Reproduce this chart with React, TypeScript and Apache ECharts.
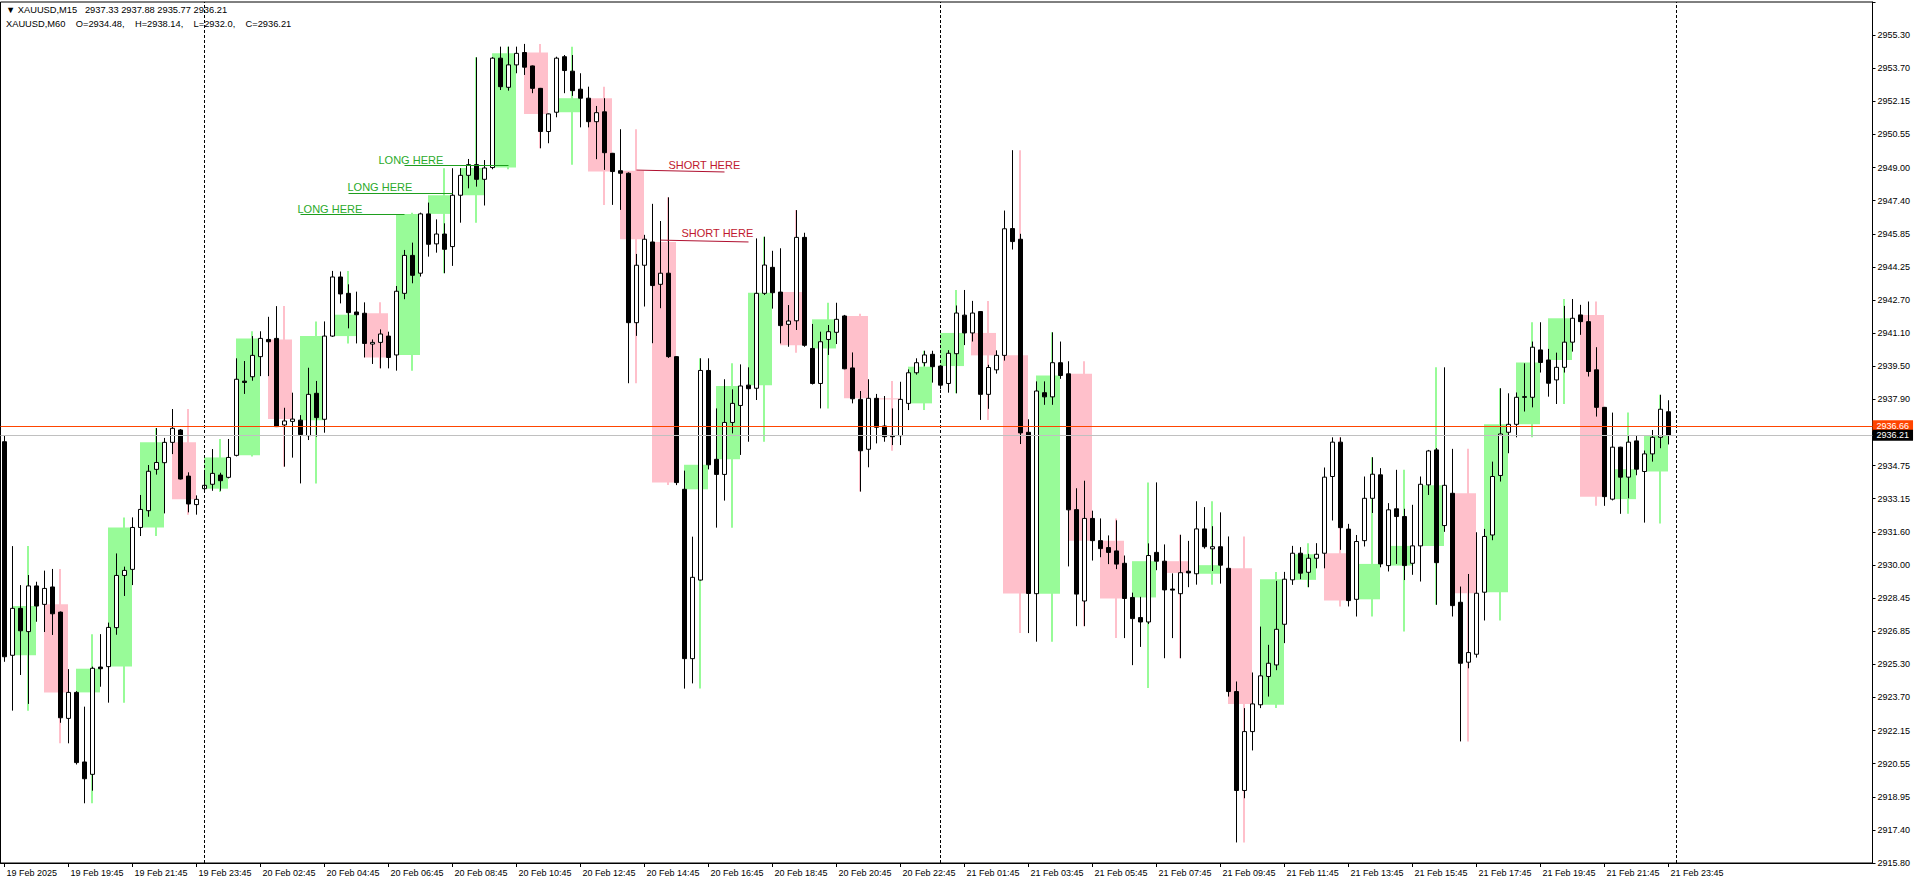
import React, { useEffect, useRef } from 'react';
import * as echarts from 'echarts';

// ---------- M15 candles (bar 0 = 19 Feb 17:45, last = 21 Feb 23:45) ----------
const opens = [2935.90,2925.71,2927.95,2926.84,2929.02,2928.14,2928.97,2927.77,2922.70,2923.94,
2920.62,2920.03,2925.15,2925.17,2927.03,2929.52,2929.81,2931.81,2932.61,2934.58,
2934.90,2935.87,2936.46,2934.26,2932.90,2933.66,2933.87,2934.31,2934.20,2935.25,
2938.79,2939.00,2939.96,2940.78,2940.83,2936.70,2936.87,2936.93,2936.19,2938.21,
2936.97,2940.94,2943.76,2942.98,2942.09,2942.03,2940.56,2940.64,2940.94,2940.04,
2942.98,2944.79,2943.94,2946.77,2945.34,2945.81,2945.21,2947.66,2948.61,2949.12,
2948.42,2948.98,2954.20,2952.81,2953.88,2954.47,2953.83,2952.76,2950.70,2951.62,
2954.27,2953.58,2952.72,2952.29,2951.17,2951.64,2949.66,2948.83,2948.71,2941.58,
2944.32,2945.43,2943.41,2943.94,2939.96,2933.63,2925.55,2929.30,2939.30,2935.06,
2934.34,2936.82,2937.63,2938.60,2938.45,2942.98,2944.22,2943.04,2941.50,2941.67,
2945.65,2940.35,2938.68,2940.78,2941.12,2941.90,2939.42,2937.92,2935.54,2937.97,
2936.65,2936.20,2936.19,2937.73,2939.19,2939.67,2940.07,2939.51,2938.68,2940.10,
2941.94,2941.09,2942.11,2938.16,2939.33,2940.02,2946.07,2945.56,2936.35,2928.65,
2938.24,2938.04,2939.67,2939.14,2932.66,2928.30,2932.24,2931.18,2930.85,2930.69,
2930.10,2928.47,2927.51,2927.30,2930.62,2930.20,2928.87,2928.65,2929.72,2929.60,
2931.74,2930.79,2930.89,2929.86,2923.98,2919.26,2922.07,2923.35,2924.70,2925.25,
2927.19,2929.31,2930.58,2929.67,2930.34,2930.58,2934.24,2935.88,2931.73,2928.38,
2931.18,2933.20,2934.32,2929.99,2932.70,2932.33,2930.10,2930.93,2933.84,2935.51,
2931.90,2933.44,2928.24,2925.38,2925.76,2928.72,2931.45,2934.29,2936.35,2936.73,
2938.05,2938.02,2940.28,2939.80,2938.85,2939.45,2940.65,2941.95,2941.63,2939.33,
2937.54,2933.16,2935.64,2934.21,2935.94,2934.48,2935.32,2936.11,2937.33];

const highs = [2936.20,2930.92,2929.06,2929.54,2929.22,2929.75,2929.83,2927.80,2925.05,2924.00,
2923.26,2925.17,2926.72,2927.27,2930.57,2929.94,2932.29,2933.36,2934.79,2936.55,
2936.08,2937.46,2936.50,2934.44,2933.34,2934.55,2935.55,2934.42,2936.03,2939.88,
2939.75,2940.94,2941.17,2941.86,2942.37,2937.52,2938.24,2937.17,2939.43,2938.80,
2941.64,2944.05,2944.02,2943.41,2943.06,2942.55,2940.78,2941.26,2941.15,2943.33,
2945.05,2945.40,2946.83,2947.31,2946.51,2946.32,2948.95,2948.95,2949.39,2954.24,
2949.34,2954.25,2954.75,2954.75,2954.75,2954.88,2953.85,2952.78,2951.56,2954.27,
2954.35,2954.35,2953.48,2952.84,2951.92,2952.29,2949.68,2950.81,2948.75,2944.86,
2945.77,2947.25,2946.43,2947.56,2939.98,2934.52,2931.37,2939.88,2939.88,2937.49,
2938.88,2938.40,2939.59,2939.45,2945.60,2945.68,2945.01,2945.13,2942.42,2946.95,
2945.87,2941.52,2941.15,2941.47,2942.53,2941.95,2940.16,2938.32,2938.88,2938.18,
2938.08,2937.49,2938.76,2939.35,2939.88,2940.24,2940.24,2939.53,2940.27,2942.40,
2943.14,2942.62,2942.13,2939.57,2940.26,2946.93,2949.81,2945.82,2936.97,2938.78,
2938.78,2941.12,2940.68,2939.74,2933.68,2934.04,2932.61,2932.24,2931.43,2932.15,
2930.47,2928.70,2928.50,2931.05,2933.96,2931.00,2929.62,2931.46,2931.17,2933.06,
2932.78,2931.87,2932.53,2931.38,2924.46,2923.19,2924.89,2927.08,2926.21,2929.26,
2929.69,2930.93,2930.87,2930.55,2931.06,2934.67,2936.11,2936.11,2931.98,2931.45,
2934.24,2935.16,2934.64,2932.97,2934.56,2932.70,2932.89,2934.24,2935.51,2935.60,
2939.45,2935.56,2928.99,2929.59,2931.58,2931.74,2934.95,2938.45,2938.21,2938.25,
2939.64,2940.68,2941.60,2940.33,2940.15,2942.38,2942.71,2942.43,2942.59,2940.41,
2937.56,2937.29,2935.66,2936.18,2936.18,2935.48,2936.46,2938.14,2937.88];

const lows = [2925.40,2923.07,2924.77,2923.39,2927.31,2926.82,2926.68,2922.49,2921.51,2920.50,
2918.65,2919.25,2924.21,2923.45,2926.69,2928.54,2929.06,2931.40,2932.32,2934.33,
2932.48,2935.31,2934.10,2932.53,2932.42,2933.50,2933.56,2933.56,2934.15,2935.20,
2938.18,2938.81,2939.03,2939.03,2936.60,2934.71,2935.14,2933.91,2935.98,2936.14,
2936.33,2940.90,2942.50,2941.31,2940.59,2939.92,2939.61,2939.40,2939.40,2939.29,
2942.70,2943.46,2943.78,2944.73,2944.92,2943.94,2944.29,2946.35,2947.99,2948.07,
2947.17,2948.90,2952.68,2952.65,2953.48,2953.40,2952.53,2949.90,2950.14,2951.38,
2952.53,2952.40,2950.90,2950.90,2949.38,2948.87,2947.20,2946.96,2938.69,2940.95,
2942.35,2940.60,2942.27,2939.90,2933.83,2924.12,2924.37,2929.28,2934.58,2931.80,
2933.09,2936.30,2935.27,2935.90,2937.89,2942.90,2942.25,2940.59,2940.43,2941.23,
2940.43,2938.63,2937.49,2940.04,2940.56,2939.36,2937.73,2933.52,2934.68,2935.82,
2935.90,2935.74,2935.74,2937.41,2939.10,2939.50,2938.72,2938.40,2938.24,2938.21,
2940.51,2940.68,2936.94,2937.47,2939.15,2939.77,2945.07,2935.79,2926.77,2926.36,
2937.66,2937.66,2938.90,2929.95,2927.10,2927.10,2930.23,2930.39,2930.06,2929.82,
2926.53,2925.24,2926.11,2927.20,2929.77,2925.57,2926.53,2925.57,2928.96,2929.08,
2930.80,2929.73,2929.13,2923.74,2916.78,2918.89,2921.17,2923.19,2923.74,2925.00,
2926.29,2929.07,2929.34,2928.96,2929.86,2929.86,2932.14,2930.74,2928.04,2927.56,
2930.90,2932.50,2929.91,2929.71,2930.07,2929.30,2929.55,2929.23,2933.36,2928.12,
2931.60,2927.56,2921.60,2925.09,2925.60,2927.37,2931.20,2934.00,2935.35,2936.11,
2937.34,2937.54,2939.20,2938.05,2937.70,2939.20,2940.20,2941.00,2939.01,2937.10,
2932.84,2933.10,2932.46,2933.20,2934.30,2932.04,2934.95,2935.59,2935.77];

const closes = [2925.64,2927.95,2926.88,2929.02,2928.06,2928.90,2927.69,2922.73,2923.94,2920.59,
2919.82,2925.09,2925.07,2927.04,2929.52,2929.76,2931.81,2932.67,2934.49,2934.91,
2935.87,2936.54,2934.12,2932.93,2933.15,2933.82,2934.39,2934.04,2935.15,2938.88,
2938.73,2940.02,2940.83,2940.67,2936.62,2936.89,2936.98,2936.24,2938.16,2937.05,
2940.94,2943.76,2942.95,2942.06,2941.96,2940.59,2940.64,2941.04,2939.92,2943.08,
2944.79,2943.84,2946.77,2945.32,2945.81,2945.08,2947.66,2948.61,2949.12,2948.42,
2948.96,2954.20,2952.84,2953.88,2954.43,2953.77,2952.76,2950.70,2951.54,2954.20,
2953.61,2952.65,2952.29,2951.17,2951.60,2949.69,2948.79,2948.71,2941.58,2944.32,
2945.56,2943.35,2943.94,2939.96,2933.95,2925.55,2929.43,2939.30,2934.80,2934.34,
2936.82,2937.73,2938.56,2938.43,2942.98,2944.33,2943.01,2941.44,2941.66,2945.65,
2940.50,2938.68,2940.67,2941.15,2941.74,2939.38,2937.95,2935.47,2937.97,2936.59,
2936.14,2936.14,2937.92,2939.19,2939.67,2940.04,2939.48,2938.60,2940.12,2942.04,
2941.09,2942.04,2938.16,2939.44,2940.02,2946.06,2945.45,2936.32,2928.66,2938.32,
2938.04,2939.67,2939.06,2932.65,2928.63,2932.24,2931.18,2930.80,2930.62,2930.06,
2928.42,2927.46,2927.30,2930.47,2930.20,2928.83,2928.82,2929.65,2929.64,2931.74,
2930.89,2930.89,2930.01,2923.98,2919.26,2922.07,2923.39,2924.73,2925.33,2926.95,
2929.34,2930.58,2929.63,2930.34,2930.53,2934.21,2935.88,2931.80,2928.32,2931.14,
2933.20,2934.35,2930.07,2932.65,2932.33,2929.99,2930.93,2933.87,2935.46,2930.13,
2933.82,2928.08,2925.33,2925.84,2928.67,2931.38,2934.24,2936.27,2936.73,2938.02,
2938.02,2940.41,2939.68,2938.69,2939.45,2940.65,2941.79,2941.63,2939.25,2937.54,
2933.28,2935.64,2934.21,2935.88,2934.59,2935.32,2936.11,2937.45,2936.21];

// ---------- M60 candles (19 Feb 18:00 ... 21 Feb 23:00) ----------
const h1Open = [2925.71,2928.14,2923.94,2925.17,2931.81,2935.87,
2933.66,2935.25,2940.78,2936.93,2940.94,2942.03,2940.04,2946.77,2947.66,2948.98,2954.47,2951.62,
2952.29,2948.83,2945.43,2933.63,2935.06,2938.60,2943.04,2940.35,2941.90,2937.97,2937.73,
2939.51,2941.09,2940.02,2928.65,2939.14,2931.18,2928.47,2930.20,2929.60,2929.86,2923.35,2929.31,
2930.58,2928.38,2929.99,2930.93,2933.44,2928.72,2936.73,2939.80,2941.95,2933.16,2934.48];
const h1High = [2930.92,2929.83,2926.72,2932.29,2936.55,2937.46,
2936.03,2941.17,2942.37,2941.64,2944.05,2942.55,2946.83,2948.95,2954.24,2954.75,2954.88,2954.75,
2952.84,2950.81,2947.56,2939.88,2939.64,2945.68,2946.95,2942.53,2942.00,2938.80,2940.24,
2943.14,2942.62,2949.81,2941.12,2939.74,2932.24,2933.96,2931.46,2933.06,2931.38,2929.69,2931.06,
2936.11,2935.16,2934.56,2939.45,2935.56,2938.45,2941.60,2942.71,2942.59,2937.29,2938.14];
const h1Low = [2923.07,2921.51,2918.65,2923.45,2931.40,2932.42,
2933.50,2935.20,2934.71,2933.91,2940.59,2939.40,2939.29,2943.94,2946.35,2948.90,2949.90,2949.11,
2947.20,2938.69,2933.83,2924.12,2931.80,2935.90,2940.15,2937.49,2933.52,2935.47,2937.41,
2938.21,2936.94,2926.77,2926.36,2927.10,2926.53,2924.15,2925.57,2929.08,2916.78,2923.19,2928.96,
2928.04,2927.56,2926.84,2928.12,2921.60,2927.37,2936.11,2937.70,2932.84,2932.46,2932.00];
const h1Close = [2928.06,2923.94,2925.07,2931.81,2935.87,2933.15,
2935.15,2940.83,2936.98,2940.94,2941.96,2939.92,2946.77,2947.66,2948.96,2954.43,2951.54,2952.29,
2948.79,2945.56,2933.95,2934.80,2938.56,2943.01,2940.50,2941.74,2937.97,2937.92,2939.48,
2941.09,2940.02,2928.66,2939.06,2931.18,2928.42,2930.20,2929.64,2930.01,2923.39,2929.34,2930.53,
2928.32,2930.07,2930.93,2933.82,2928.67,2936.73,2939.68,2941.79,2933.28,2934.59,2936.21];

// ---------- axis ticks / levels ----------
const yTickLabels = ['2915.80','2917.40','2918.95','2920.55','2922.15','2923.70','2925.30','2926.85','2928.45',
'2930.00','2931.60','2933.15','2934.75','','2937.90','2939.50','2941.10','2942.70','2944.25','2945.85',
'2947.40','2949.00','2950.55','2952.15','2953.70','2955.30',''];
const Y_MIN = 2915.80;
const Y_STEP = 1.58;
const Y_MAX = 2956.88;
const askPrice = 2936.66;
const bidPrice = 2936.21;
const daySeparators = ['20 Feb 01:00', '21 Feb 01:00', '22 Feb 01:00'];
const firstTimeLabel = '19 Feb 2025';

// ---------- annotations ----------
const noteTexts = ['LONG HERE', 'LONG HERE', 'LONG HERE', 'SHORT HERE', 'SHORT HERE'];
const noteBars = [46.75, 42.875, 36.625, 83.0, 84.625];
const notePrices = [2949.32, 2948.04, 2946.99, 2949.10, 2945.84];
const noteLineFrom = ['20 Feb 07:15', '20 Feb 05:30', '20 Feb 04:00', '20 Feb 14:30', '20 Feb 15:15'];
const noteLineTo = ['20 Feb 10:30', '20 Feb 08:45', '20 Feb 07:15', '20 Feb 17:15', '20 Feb 18:00'];
const noteLineP1 = [2949.09, 2947.77, 2946.77, 2948.86, 2945.52];
const noteLineP2 = [2949.09, 2947.77, 2946.77, 2948.77, 2945.43];

const FONT = '"Liberation Sans", Arial, sans-serif';
const GREEN_TEXT = '#2AAA2A';
const GREEN_LINE = '#1E9E1E';
const RED_TEXT = '#C0182E';
const RED_LINE = '#B01030';

function pad2(n: number) { return n < 10 ? '0' + n : '' + n; }
function slots(day: string, startMin: number, count: number): string[] {
  const out: string[] = [];
  for (let i = 0; i < count; i++) {
    const t = startMin + 15 * i;
    out.push(day + ' ' + pad2(Math.floor(t / 60)) + ':' + pad2(t % 60));
  }
  return out;
}
const categories = [
  ...slots('19 Feb', 17 * 60 + 45, 25),
  ...slots('20 Feb', 60, 92),
  ...slots('21 Feb', 60, 92),
  ...slots('22 Feb', 60, 25),
];
const BAR_COUNT = opens.length;

function mt(v: number) { return v.toFixed(2).replace(/0$/, ''); }
const SP2 = '\u00A0\u00A0';
const SP3 = '\u00A0\u00A0\u00A0';
const SP4 = '\u00A0\u00A0\u00A0\u00A0';

export default function App() {
  const ref = useRef<HTMLDivElement>(null);
  useEffect(() => {
    document.body.style.margin = '0';
    if (!ref.current) return;
    const chart = echarts.init(ref.current, null, { renderer: 'svg' });

    const candleData = opens.map((o, i) => [o, closes[i], lows[i], highs[i]]);
    const hourStarts: number[] = [];
    categories.forEach((c, i) => { if (i < BAR_COUNT && c.endsWith(':00')) hourStarts.push(i); });
    const h1Data = h1Open.map((o, k) => [hourStarts[k], o, h1High[k], h1Low[k], h1Close[k]]);

    const labelInterval = (index: number) => index % 8 === 0 && index < BAR_COUNT;

    const markData: any[] = [];
    daySeparators.forEach((d) => {
      markData.push({ xAxis: d, lineStyle: { color: '#000', type: [3, 2], width: 1 }, label: { show: false } });
    });
    noteTexts.forEach((t, k) => {
      const col = t.startsWith('LONG') ? GREEN_LINE : RED_LINE;
      markData.push([
        { coord: [noteLineFrom[k], noteLineP1[k]], lineStyle: { color: col, width: 1, type: 'solid' }, label: { show: false } },
        { coord: [noteLineTo[k], noteLineP2[k]] },
      ]);
    });
    markData.push({
      yAxis: askPrice,
      lineStyle: { color: '#FF4500', width: 1, type: 'solid' },
      label: { show: true, position: 'end', distance: 0, formatter: askPrice.toFixed(2), color: '#fff', backgroundColor: '#FF4500', padding: [1, 4, 1, 4], fontSize: 9, fontFamily: FONT },
    });
    markData.push({
      yAxis: bidPrice,
      lineStyle: { color: '#C0C0C0', width: 1, type: 'solid' },
      label: { show: true, position: 'end', distance: 0, formatter: bidPrice.toFixed(2), color: '#fff', backgroundColor: '#000', padding: [1, 4, 1, 4], fontSize: 9, fontFamily: FONT },
    });

    const option: any = {
      animation: false,
      backgroundColor: '#fff',
      grid: { left: 0.5, right: 43.5, top: 2, bottom: 22, show: true, borderColor: '#000', borderWidth: 1, containLabel: false, outerBoundsMode: 'none' },
      xAxis: {
        type: 'category',
        data: categories,
        boundaryGap: true,
        axisLine: { show: true, lineStyle: { color: '#000', width: 1 } },
        axisTick: { show: true, alignWithLabel: true, interval: labelInterval, length: 4, lineStyle: { color: '#000' } },
        axisLabel: {
          show: true, interval: labelInterval, hideOverlap: false,
          formatter: (v: string, i: number) => (i === 0 ? firstTimeLabel : v),
          align: 'left', color: '#000', fontSize: 9, fontFamily: FONT, margin: 5, padding: [0, 0, 0, 2],
        },
        splitLine: { show: false },
      },
      yAxis: {
        type: 'value', position: 'right', min: Y_MIN, max: Y_MAX, interval: Y_STEP,
        axisLine: { show: true, onZero: false, lineStyle: { color: '#000', width: 1 } },
        axisTick: { show: true, length: 3, lineStyle: { color: '#000' } },
        axisLabel: {
          show: true, hideOverlap: false,
          formatter: (v: number) => { const k = Math.round((v - Y_MIN) / Y_STEP); return yTickLabels[k] ?? ''; },
          color: '#000', fontSize: 9, fontFamily: FONT, margin: 5,
        },
        splitLine: { show: false },
      },
      series: [
        {
          type: 'custom',
          name: 'M60',
          silent: true,
          z: 1,
          encode: { x: 0, y: [1, 2, 3, 4] },
          data: h1Data,
          renderItem: (params: any, api: any) => {
            const s = api.value(0) as number;
            const o = api.value(1) as number, h = api.value(2) as number, l = api.value(3) as number, c = api.value(4) as number;
            const top = api.coord([s, Math.max(o, c)]);
            const bot = api.coord([s + 3, Math.min(o, c)]);
            const wt = api.coord([s + 2, h]);
            const wb = api.coord([s + 2, l]);
            const color = c >= o ? '#98FB98' : '#FFC0CB';
            const x0 = Math.round(top[0]) - 1;
            const x1 = Math.round(bot[0]) - 1;
            return {
              type: 'group',
              children: [
                { type: 'rect', shape: { x: x0, y: top[1], width: x1 - x0, height: Math.max(1, bot[1] - top[1]) }, style: { fill: color } },
                { type: 'rect', shape: { x: Math.round(wt[0]) - 2, y: wt[1], width: 2, height: wb[1] - wt[1] }, style: { fill: color } },
              ],
            };
          },
        },
        {
          type: 'candlestick',
          name: 'M15',
          silent: true,
          z: 3,
          clip: false,
          barWidth: 4,
          data: candleData,
          itemStyle: { color: '#fff', color0: '#000', borderColor: '#000', borderColor0: '#000', borderColorDoji: '#000', borderWidth: 1 },
          markLine: { silent: true, symbol: ['none', 'none'], animation: false, label: { show: false }, data: markData },
        },
      ],
    };
    chart.setOption(option);

    const toPx = (bar: number, price: number) => {
      const i0 = Math.floor(bar);
      const f = bar - i0;
      const a = chart.convertToPixel({ gridIndex: 0 }, [i0, price]) as number[];
      const b = chart.convertToPixel({ gridIndex: 0 }, [i0 + 1, price]) as number[];
      return [a[0] + f * (b[0] - a[0]), a[1]];
    };

    const last = BAR_COUNT - 1;
    const lastH = h1Open.length - 1;
    const header1 = '\u25BC XAUUSD,M15' + SP3 + [opens[last], highs[last], lows[last], closes[last]].map(mt).join(' ');
    const header2 = 'XAUUSD,M60' + SP4 + 'O=' + mt(h1Open[lastH]) + ',' + SP4 + 'H=' + mt(h1High[lastH]) +
      ',' + SP4 + 'L=' + mt(h1Low[lastH]) + ',' + SP4 + 'C=' + mt(h1Close[lastH]);

    const graphics: any[] = [
      { type: 'text', x: 6, y: 10, silent: true, style: { text: header1, fill: '#000', fontSize: 9.3, fontFamily: FONT, verticalAlign: 'middle', align: 'left' } },
      { type: 'text', x: 6, y: 24, silent: true, style: { text: header2, fill: '#000', fontSize: 9.3, fontFamily: FONT, verticalAlign: 'middle', align: 'left' } },
    ];
    noteTexts.forEach((t, k) => {
      const p = toPx(noteBars[k], notePrices[k]);
      graphics.push({
        type: 'text', x: p[0], y: p[1], silent: true,
        style: { text: t, fill: t.startsWith('LONG') ? GREEN_TEXT : RED_TEXT, fontSize: 11, fontFamily: FONT, verticalAlign: 'middle', align: 'left' },
      });
    });
    chart.setOption({ graphic: graphics });

    return () => { chart.dispose(); };
  }, []);
  return <div ref={ref} style={{ width: 1916, height: 885 }} />;
}
